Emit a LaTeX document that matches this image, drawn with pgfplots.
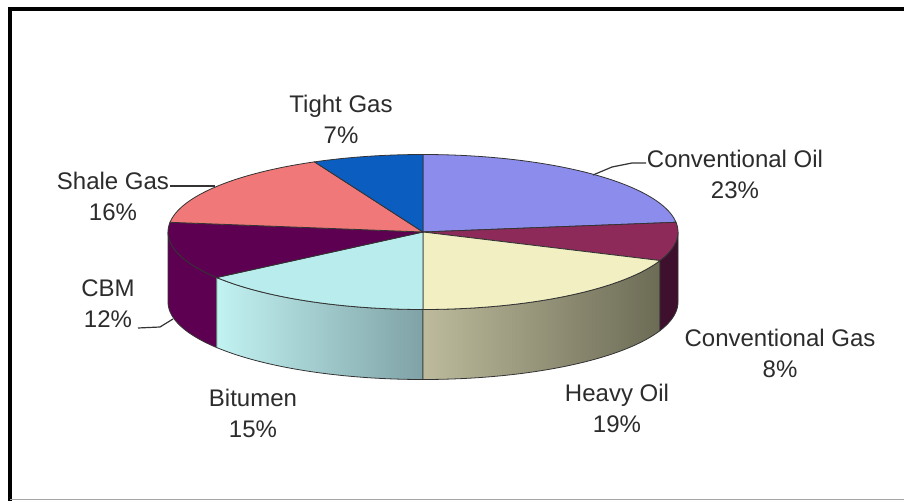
\documentclass[border=0pt]{standalone}
\usepackage{fontspec}
\setmainfont{Liberation Sans}
\usepackage{pgfplots}
\pgfplotsset{compat=1.18}

% shares in percent, clockwise from twelve o'clock
\def\pCO{23} % Conventional Oil
\def\pCG{8}  % Conventional Gas
\def\pHO{19} % Heavy Oil
\def\pBI{15} % Bitumen
\def\pCB{12} % CBM
\def\pSG{16} % Shale Gas
\def\pTG{7}  % Tight Gas

% ellipse of the top face and depth of the wall (drawing units)
\def\cx{423}\def\cy{232}\def\rx{255}\def\ry{77.5}\def\dep{70}

% boundary angles between slices
\pgfmathsetmacro\aA{90}
\pgfmathsetmacro\aB{\aA-3.6*\pCO}
\pgfmathsetmacro\aC{\aB-3.6*\pCG}
\pgfmathsetmacro\aD{\aC-3.6*\pHO}
\pgfmathsetmacro\aE{\aD-3.6*\pBI}
\pgfmathsetmacro\aF{\aE-3.6*\pCB}
\pgfmathsetmacro\aG{\aF-3.6*\pSG}
\pgfmathsetmacro\aH{\aG-3.6*\pTG}

\definecolor{coTop}{HTML}{8C8CEC}
\definecolor{cgTop}{HTML}{8E2A5A}
\definecolor{cgSide}{HTML}{3F102E}
\definecolor{hoTop}{HTML}{F2F0C2}
\definecolor{hoL}{HTML}{BDBB9C}
\definecolor{hoM}{HTML}{ABA98B}
\definecolor{hoR}{HTML}{6C6B55}
\definecolor{biTop}{HTML}{B9ECEC}
\definecolor{biL}{HTML}{C2F2F2}
\definecolor{biM}{HTML}{A6D2D4}
\definecolor{biR}{HTML}{7FA2A6}
\definecolor{cbTop}{HTML}{5E0052}
\definecolor{sgTop}{HTML}{F07878}
\definecolor{tgTop}{HTML}{0B5EC0}
\definecolor{edge}{HTML}{333333}
\definecolor{txt}{HTML}{2C2C2C}

\tikzset{
  lbl/.style={align=center, text=txt, inner sep=0pt,
    font=\fontsize{12bp}{15.5bp}\selectfont},
  slice/.style={draw=edge, line width=0.4pt, domain=#1, samples=80},
}

\begin{document}
\begin{tikzpicture}
\begin{axis}[
  width=452bp, height=250.5bp, scale only axis, hide axis,
  xmin=0, xmax=904, ymin=0, ymax=501, y dir=reverse, clip=false,
  declare function={
    % wall outline: top arc (0..1), drop (1..2), bottom arc back (2..3)
    sa(\s,\a,\b) = (\s<1) ? (\a+(\b-\a)*\s) : ((\s<2) ? \b : (\b-(\b-\a)*(\s-2)));
    so(\s) = (\s<1) ? 0 : ((\s<2) ? \dep*(\s-1) : \dep);
  },
]

% white background, a little larger than the page
\fill[white] (axis cs:-6,-6) rectangle (axis cs:910,507);

% front walls
\addplot[draw=edge, line width=0.4pt, fill=cbTop, domain=0:3, samples=151]
  ({\cx+\rx*cos(sa(x,-180,\aE))},{\cy-\ry*sin(sa(x,-180,\aE))+so(x)}) -- cycle;
\addplot[draw=edge, line width=0.4pt, left color=biL, middle color=biM, right color=biR,
  domain=0:3, samples=151]
  ({\cx+\rx*cos(sa(x,\aE,\aD))},{\cy-\ry*sin(sa(x,\aE,\aD))+so(x)}) -- cycle;
\addplot[draw=edge, line width=0.4pt, left color=hoL, middle color=hoM, right color=hoR,
  domain=0:3, samples=151]
  ({\cx+\rx*cos(sa(x,\aD,\aC))},{\cy-\ry*sin(sa(x,\aD,\aC))+so(x)}) -- cycle;
\addplot[draw=edge, line width=0.4pt, fill=cgSide, domain=0:3, samples=151]
  ({\cx+\rx*cos(sa(x,\aC,0))},{\cy-\ry*sin(sa(x,\aC,0))+so(x)}) -- cycle;

% top face
\addplot[slice=\aB:\aA, fill=coTop] ({\cx+\rx*cos(x)},{\cy-\ry*sin(x)}) -- (axis cs:\cx,\cy) -- cycle;
\addplot[slice=\aC:\aB, fill=cgTop] ({\cx+\rx*cos(x)},{\cy-\ry*sin(x)}) -- (axis cs:\cx,\cy) -- cycle;
\addplot[slice=\aD:\aC, fill=hoTop] ({\cx+\rx*cos(x)},{\cy-\ry*sin(x)}) -- (axis cs:\cx,\cy) -- cycle;
\addplot[slice=\aE:\aD, fill=biTop] ({\cx+\rx*cos(x)},{\cy-\ry*sin(x)}) -- (axis cs:\cx,\cy) -- cycle;
\addplot[slice=\aF:\aE, fill=cbTop] ({\cx+\rx*cos(x)},{\cy-\ry*sin(x)}) -- (axis cs:\cx,\cy) -- cycle;
\addplot[slice=\aG:\aF, fill=sgTop] ({\cx+\rx*cos(x)},{\cy-\ry*sin(x)}) -- (axis cs:\cx,\cy) -- cycle;
\addplot[slice=\aH:\aG, fill=tgTop] ({\cx+\rx*cos(x)},{\cy-\ry*sin(x)}) -- (axis cs:\cx,\cy) -- cycle;

% leader lines
\addplot[draw=black!80, line width=0.6pt] coordinates {(593,175) (612,167) (632,163) (646,163)};
\addplot[draw=black!80, line width=0.6pt] coordinates {(170,186) (215,186)};
\addplot[draw=black!80, line width=0.6pt] coordinates {(138,328) (160,327) (173,319)};

% labels
\node[lbl] at (axis cs:735,174.5) {Conventional Oil\\\pCO\%};
\node[lbl] at (axis cs:780,353)   {Conventional Gas\\\pCG\%};
\node[lbl] at (axis cs:617,408)   {Heavy Oil\\\pHO\%};
\node[lbl] at (axis cs:253,413)   {Bitumen\\\pBI\%};
\node[lbl] at (axis cs:108,304)   {CBM\\\pCB\%};
\node[lbl] at (axis cs:113,196)   {Shale Gas\\\pSG\%};
\node[lbl] at (axis cs:341,119)   {Tight Gas\\\pTG\%};

% frame
\draw[line width=2bp] (axis cs:10,501) -- (axis cs:10,9) -- (axis cs:910,9);
\draw[line width=0.7bp, black!35] (axis cs:10,499.5) -- (axis cs:910,499.5);
\end{axis}
\pgfresetboundingbox
\path (current axis.south west) rectangle (current axis.north east);
\end{tikzpicture}
\end{document}
